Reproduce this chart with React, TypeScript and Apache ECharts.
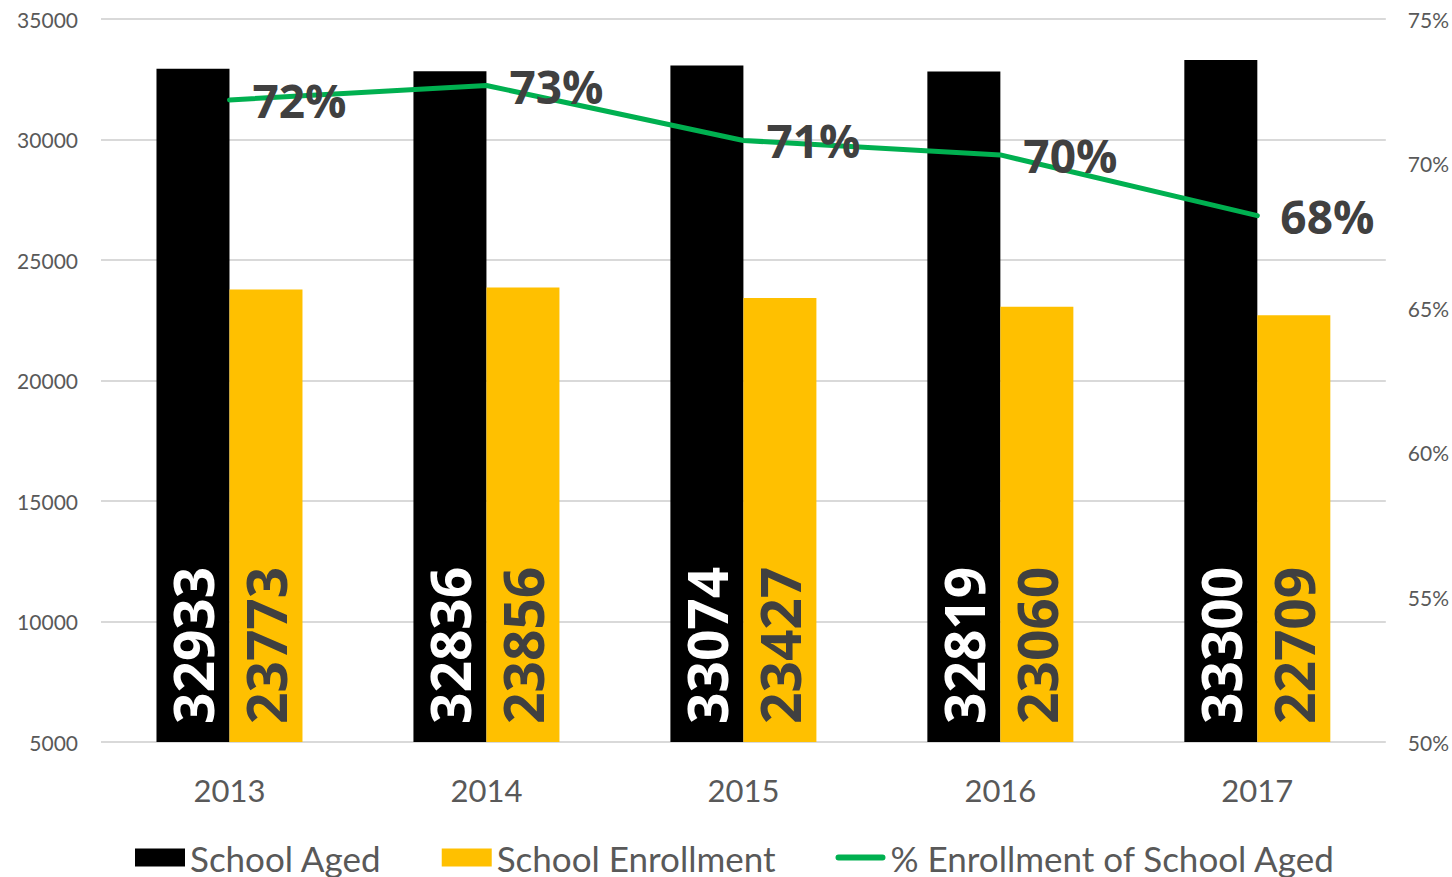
import React, { useEffect, useRef } from "react";
import * as echarts from "echarts";

const years = ["2013", "2014", "2015", "2016", "2017"];
const schoolAged = [32933, 32836, 33074, 32819, 33300];
const schoolEnrollment = [23773, 23856, 23427, 23060, 22709];
const pctEnrollment = [0.722, 0.727, 0.708, 0.703, 0.682];

const TEXT = "#595959";
const FONT = "Lato, 'Open Sans', sans-serif";
const BOLD = "'Open Sans', Lato, sans-serif";

const LINE_ICON =
  "path://M0,0 L0.01,0 Z M3,6 L47,6 A3,3 0 0 1 47,12 L3,12 A3,3 0 0 1 3,6 Z M0,18 L0.01,18 Z";

export default function App() {
  const ref = useRef<HTMLDivElement>(null);
  useEffect(() => {
    if (!ref.current) return;
    const chart = echarts.init(ref.current, null, { renderer: "svg" });
    chart.setOption({
      animation: false,
      backgroundColor: "#ffffff",
      textStyle: { fontFamily: FONT },
      grid: { left: 101, right: 66, top: 19, bottom: 135, containLabel: false },
      legend: {
        bottom: -3,
        left: 130,
        padding: 5,
        itemWidth: 50,
        itemHeight: 18,
        itemGap: 60,
        textStyle: { fontFamily: FONT, fontSize: 35, color: TEXT },
        data: [
          { name: "School Aged", icon: "rect" },
          { name: "School Enrollment", icon: "rect" },
          {
            name: "% Enrollment of School Aged",
            icon: LINE_ICON,
            itemStyle: { color: "#00B050", borderWidth: 0 },
            lineStyle: { width: 0 },
          },
        ],
      },
      xAxis: {
        type: "category",
        data: years,
        axisLine: { show: false },
        axisTick: { show: false },
        axisLabel: { fontSize: 31, color: TEXT, margin: 32, fontFamily: FONT },
      },
      yAxis: [
        {
          type: "value",
          min: 5000,
          max: 35000,
          interval: 5000,
          axisLine: { show: false },
          axisTick: { show: false },
          axisLabel: {
            fontSize: 21,
            color: TEXT,
            margin: 23,
            fontFamily: FONT,
            formatter: (v: number) => String(v),
          },
          splitLine: { lineStyle: { color: "#d9d9d9", width: 2 } },
        },
        {
          type: "value",
          min: 0.5,
          max: 0.75,
          interval: 0.05,
          axisLine: { show: false },
          axisTick: { show: false },
          splitLine: { show: false },
          axisLabel: {
            fontSize: 21,
            color: TEXT,
            margin: 22,
            fontFamily: FONT,
            formatter: (v: number) => Math.round(v * 100) + "%",
          },
        },
      ],
      series: [
        {
          name: "School Aged",
          type: "bar",
          data: schoolAged,
          barWidth: 73,
          barGap: "0%",
          itemStyle: { color: "#000000" },
          label: {
            show: true,
            position: "insideBottom",
            rotate: 90,
            align: "left",
            verticalAlign: "middle",
            distance: 18,
            fontSize: 55,
            fontWeight: "bold",
            fontFamily: BOLD,
            color: "#ffffff",
          },
        },
        {
          name: "School Enrollment",
          type: "bar",
          data: schoolEnrollment,
          barWidth: 73,
          barGap: "0%",
          itemStyle: { color: "#FFC000" },
          label: {
            show: true,
            position: "insideBottom",
            rotate: 90,
            align: "left",
            verticalAlign: "middle",
            distance: 18,
            fontSize: 55,
            fontWeight: "bold",
            fontFamily: BOLD,
            color: "#404040",
          },
        },
        {
          name: "% Enrollment of School Aged",
          type: "line",
          yAxisIndex: 1,
          data: pctEnrollment,
          symbol: "circle",
          symbolSize: 2,
          showSymbol: true,
          lineStyle: { color: "#00B050", width: 5, cap: "round" },
          itemStyle: { color: "#00B050" },
          label: {
            show: true,
            position: "right",
            distance: 22,
            fontSize: 46,
            fontWeight: "bold",
            fontFamily: BOLD,
            color: "#404040",
            formatter: (p: any) => Math.round(p.value * 100) + "%",
          },
        },
      ],
    });
    return () => chart.dispose();
  }, []);
  return (
    <div
      ref={ref}
      style={{ position: "fixed", left: 0, top: 0, width: 1452, height: 877 }}
    />
  );
}
